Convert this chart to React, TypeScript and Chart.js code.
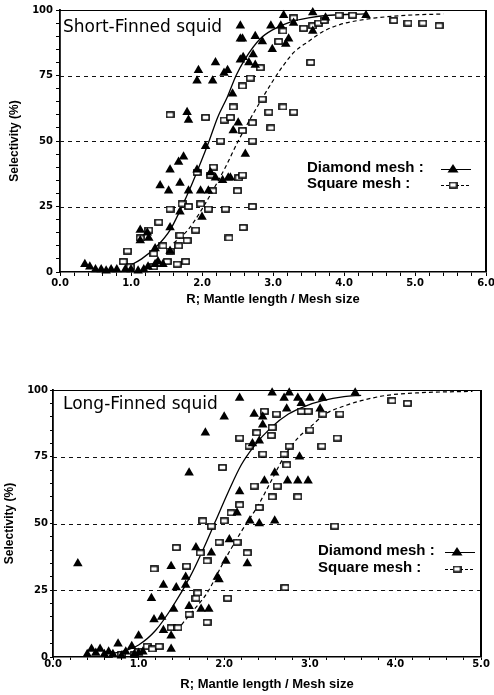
import React, { useEffect, useRef } from 'react';
import { Chart, registerables } from 'chart.js';
Chart.register(...registerables);

// ---------------- data ----------------
const yTickLabels = ['0', '25', '50', '75', '100'];
const xTickLabelsTop = ['0.0', '1.0', '2.0', '3.0', '4.0', '5.0', '6.0'];
const xTickLabelsBottom = ['0.0', '1.0', '2.0', '3.0', '4.0', '5.0'];
const yGridValues = [25, 50, 75];
const legendLabels = ['Diamond mesh :', 'Square mesh :'];
const titleTop = 'Short-Finned squid';
const titleBottom = 'Long-Finned squid';
const axisTitleX = 'R; Mantle length / Mesh size';
const axisTitleY = 'Selectivity (%)';

// Short-finned squid: diamond mesh (filled triangles)
const shortDiamond = [
  [0.35, 3], [0.42, 2], [0.5, 1], [0.58, 1], [0.65, 0.5], [0.72, 1], [0.8, 1], [0.92, 1], [1.0, 1], [1.1, 0.5], [1.18, 1],
  [1.24, 2], [1.34, 3], [1.38, 4], [1.45, 3],
  [1.13, 16], [1.23, 15], [1.13, 12], [1.25, 13], [1.34, 9], [1.55, 8],
  [1.41, 33], [1.53, 31], [1.55, 39], [1.67, 42], [1.74, 44], [1.69, 34], [1.55, 17], [1.69, 23], [1.81, 31],
  [1.79, 61], [1.81, 58], [1.95, 77], [1.93, 73], [2.19, 80], [2.15, 73], [2.36, 77], [2.31, 76],
  [1.93, 39], [1.98, 31], [2.09, 31], [2.05, 48], [2.12, 38], [2.19, 36], [2.29, 35], [2.4, 36], [2.0, 21], [2.37, 36],
  [2.43, 68], [2.54, 89], [2.54, 81], [2.51, 57], [2.44, 54], [2.61, 45], [2.66, 80], [2.54, 94],
  [3.15, 98], [3.56, 99], [3.74, 97], [4.31, 98], [2.97, 94], [3.11, 94], [3.29, 95], [3.56, 92],
  [2.57, 89], [2.75, 90], [2.85, 88], [2.99, 85], [3.18, 87], [3.22, 89], [2.58, 82], [2.72, 83], [2.75, 79],
];
// Short-finned squid: square mesh (open squares)
const shortSquare = [
  [0.89, 4], [0.99, 2], [0.95, 8], [1.13, 13], [1.25, 16], [1.39, 19], [1.32, 7], [1.32, 2], [1.45, 10], [1.51, 4],
  [1.55, 8], [1.65, 3], [1.67, 10], [1.69, 14], [1.77, 4], [1.79, 12], [1.91, 16],
  [1.55, 24], [1.72, 26], [1.81, 25], [1.98, 26], [2.09, 24], [2.33, 24], [2.71, 25],
  [1.55, 60], [2.05, 59], [2.31, 58], [2.4, 59], [2.44, 63], [2.26, 50], [2.57, 54], [2.71, 50],
  [1.93, 38], [2.16, 40], [2.12, 37], [2.52, 36], [2.15, 31], [2.5, 31], [2.57, 37],
  [2.38, 13], [2.58, 17],
  [2.57, 71], [2.68, 74], [2.82, 78], [2.85, 66], [2.94, 61], [3.14, 63], [3.29, 61], [2.71, 57], [2.97, 55],
  [3.08, 88], [3.14, 92], [3.29, 97], [3.43, 93], [3.53, 80], [3.56, 94], [3.64, 95], [3.72, 96], [3.93, 98],
  [4.12, 98], [4.7, 96], [4.9, 95], [5.11, 95], [5.34, 94],
];
// fitted curves
const shortDiamondCurve = [
  [0.95, 2], [1.15, 5], [1.37, 10], [1.55, 16], [1.7, 24], [1.85, 33], [2.0, 43], [2.1, 50], [2.22, 59],
  [2.36, 67], [2.48, 75], [2.6, 81], [2.82, 89], [3.0, 92.5], [3.25, 95.5], [3.5, 97], [3.8, 98], [4.3, 98.5],
];
const shortSquareCurve = [
  [1.6, 11], [1.8, 16], [2.0, 24], [2.15, 31], [2.33, 40], [2.51, 50], [2.65, 57], [2.82, 65], [3.0, 73],
  [3.15, 79], [3.3, 84], [3.5, 88], [3.72, 92], [3.95, 94.5], [4.2, 96], [4.45, 97], [4.9, 98], [5.4, 98.5],
];

// Long-finned squid: diamond mesh
const longDiamond = [
  [0.29, 35], [0.4, 1], [0.45, 3], [0.5, 1.5], [0.55, 3], [0.6, 1], [0.65, 2], [0.7, 1], [0.76, 5], [0.8, 0.5],
  [0.85, 2], [0.92, 4], [0.95, 1], [1.0, 8], [1.0, 1.5], [1.05, 2],
  [1.15, 22], [1.18, 14], [1.27, 15], [1.29, 27], [1.29, 10], [1.38, 34], [1.38, 8], [1.38, 3], [1.41, 18],
  [1.44, 26], [1.55, 27], [1.55, 30], [1.59, 19], [1.67, 41], [1.73, 18], [1.82, 18],
  [1.59, 69], [1.78, 84], [1.85, 39], [1.92, 30], [1.94, 29], [2.02, 36], [2.06, 44], [2.27, 35],
  [2.3, 51], [2.41, 50], [2.59, 51], [2.15, 54], [2.18, 62],
  [2.0, 90], [2.18, 97], [2.33, 80], [2.41, 81], [2.35, 91], [2.45, 90], [2.45, 87], [2.47, 66], [2.59, 69],
  [2.74, 66], [2.86, 66], [2.98, 66], [2.88, 75],
  [2.56, 99], [2.7, 97], [2.76, 99], [2.73, 93], [2.86, 97], [2.9, 95], [3.0, 97], [3.12, 93], [3.15, 97], [3.53, 99],
];
// Long-finned squid: square mesh
const longSquare = [
  [0.65, 1], [0.8, 1], [0.95, 1], [1.0, 2], [1.1, 4], [1.16, 3], [1.24, 4], [1.38, 11], [1.46, 11], [1.59, 16],
  [1.67, 22], [1.69, 24], [1.8, 13], [2.04, 22],
  [1.18, 33], [1.44, 41], [1.56, 34], [1.72, 39], [1.8, 36], [1.94, 43], [2.15, 43], [2.27, 39],
  [1.75, 51], [1.85, 49], [2.0, 51], [2.08, 54], [2.18, 57], [2.41, 56], [2.56, 60], [2.86, 60], [2.35, 64], [2.62, 64],
  [1.98, 71], [2.73, 72], [2.45, 76], [2.7, 76], [2.76, 79], [2.29, 79], [2.18, 82], [2.38, 84], [2.55, 83], [2.56, 86],
  [2.47, 92], [2.61, 91], [2.9, 92], [2.98, 92], [3.15, 91], [3.35, 91], [3.0, 85], [3.32, 82], [3.14, 79],
  [3.29, 49], [2.71, 26], [3.96, 96], [4.14, 95],
];
const longDiamondCurve = [
  [0.6, 1], [0.8, 2], [1.0, 4.5], [1.2, 10], [1.4, 19], [1.6, 30], [1.75, 40], [1.9, 51], [2.05, 62],
  [2.2, 72], [2.35, 79], [2.55, 86], [2.75, 91], [2.95, 94], [3.15, 96], [3.4, 97.5], [3.6, 98],
];
const longSquareCurve = [
  [1.45, 10], [1.6, 16], [1.8, 24], [2.0, 36], [2.2, 47], [2.4, 57], [2.55, 66], [2.7, 75], [2.86, 82],
  [3.0, 86], [3.18, 91], [3.4, 94], [3.6, 96], [3.9, 98], [4.3, 99], [4.9, 99.5],
];

// ---------------- helpers ----------------
const toXY = (arr) => arr.map(([x, y]) => ({ x, y }));

function makeSquareMarker() {
  const c = document.createElement('canvas');
  c.width = 9;
  c.height = 7;
  const g = c.getContext('2d');
  g.fillStyle = '#fff';
  g.fillRect(1, 1, 7, 5);
  g.strokeStyle = '#000';
  g.lineWidth = 1.5;
  g.strokeRect(0.9, 0.9, 7.2, 5.2);
  return c;
}

const topPanel = {
  canvasTop: 0, height: 320,
  padTop: 10, padRight: 8, yAxisWidth: 60, xAxisHeight: 48,
  xMax: 6, xLabels: xTickLabelsTop,
  tickLen: 4, xTickPad: 1, yTickPad: 3,
  xTitlePad: 13, yTitlePad: 7,
  title: titleTop, titleX: 63, titleY: 32,
  legendX: 307, legendY: [172, 188], symX: 453, symY: [169, 185], lineX: [441, 471],
  diamond: shortDiamond, square: shortSquare, diamondCurve: shortDiamondCurve, squareCurve: shortSquareCurve,
};

const bottomPanel = {
  canvasTop: 370, height: 325,
  padTop: 20, padRight: 13, yAxisWidth: 53, xAxisHeight: 38,
  xMax: 5, xLabels: xTickLabelsBottom,
  tickLen: 3, xTickPad: -2, yTickPad: 2,
  xTitlePad: 3, yTitlePad: 2,
  title: titleBottom, titleX: 63, titleY: 39,
  legendX: 318, legendY: [185, 202], symX: 457, symY: [182, 199], lineX: [445, 475],
  diamond: longDiamond, square: longSquare, diamondCurve: longDiamondCurve, squareCurve: longSquareCurve,
};

function decorPlugin(p, marker) {
  return {
    id: 'panelDecor',
    beforeDatasetsDraw(chart) {
      const { ctx, chartArea, scales } = chart;
      const ys = scales.y;
      ctx.save();
      ctx.strokeStyle = '#111';
      ctx.lineWidth = 1;
      ctx.setLineDash([4, 4]);
      yGridValues.forEach((v) => {
        const py = Math.round(ys.getPixelForValue(v)) + 0.5;
        ctx.beginPath();
        ctx.moveTo(chartArea.left, py);
        ctx.lineTo(chartArea.right, py);
        ctx.stroke();
      });
      ctx.setLineDash([]);
      ctx.strokeStyle = '#000';
      ctx.lineWidth = 1;
      ctx.beginPath();
      ctx.moveTo(chartArea.left, chartArea.top + 0.5);
      ctx.lineTo(chartArea.right, chartArea.top + 0.5);
      ctx.stroke();
      ctx.lineWidth = 2;
      ctx.beginPath();
      ctx.moveTo(chartArea.right, chartArea.top);
      ctx.lineTo(chartArea.right, chartArea.bottom);
      ctx.stroke();
      ctx.restore();
    },
    afterDraw(chart) {
      const { ctx } = chart;
      ctx.save();
      ctx.fillStyle = '#000';
      ctx.textBaseline = 'alphabetic';
      ctx.textAlign = 'left';
      ctx.font = '17px "DejaVu Sans"';
      ctx.fillText(p.title, p.titleX, p.titleY);
      ctx.font = 'bold 15px "Liberation Sans"';
      legendLabels.forEach((t, i) => ctx.fillText(t, p.legendX, p.legendY[i]));
      // diamond symbol
      const [x1, x2] = p.lineX;
      ctx.strokeStyle = '#000';
      ctx.lineWidth = 1;
      ctx.beginPath();
      ctx.moveTo(x1, p.symY[0] + 0.5);
      ctx.lineTo(x2, p.symY[0] + 0.5);
      ctx.stroke();
      ctx.beginPath();
      ctx.moveTo(p.symX, p.symY[0] - 5);
      ctx.lineTo(p.symX + 5.5, p.symY[0] + 3.5);
      ctx.lineTo(p.symX - 5.5, p.symY[0] + 3.5);
      ctx.closePath();
      ctx.fill();
      // square symbol
      ctx.setLineDash([3, 2]);
      ctx.beginPath();
      ctx.moveTo(x1, p.symY[1] + 0.5);
      ctx.lineTo(x2, p.symY[1] + 0.5);
      ctx.stroke();
      ctx.setLineDash([]);
      ctx.drawImage(marker, p.symX - 4.5, p.symY[1] - 3.5);
      ctx.restore();
    },
  };
}

function buildConfig(p, marker) {
  const tickFont = { family: 'DejaVu Sans', weight: 'bold', size: 10 };
  return {
    type: 'scatter',
    data: {
      datasets: [
        {
          label: 'Diamond fit', data: toXY(p.diamondCurve), showLine: true, borderColor: '#000', borderWidth: 1.3,
          pointRadius: 0, cubicInterpolationMode: 'monotone', fill: false, order: 3,
        },
        {
          label: 'Square fit', data: toXY(p.squareCurve), showLine: true, borderColor: '#000', borderWidth: 1.2,
          borderDash: [4, 3], pointRadius: 0, cubicInterpolationMode: 'monotone', fill: false, order: 2,
        },
        {
          label: 'Square mesh', data: toXY(p.square), pointStyle: marker, pointRadius: 4, order: 1, clip: 8,
        },
        {
          label: 'Diamond mesh', data: toXY(p.diamond), pointStyle: 'triangle', pointRadius: 5.5,
          backgroundColor: '#000', borderColor: '#000', borderWidth: 0, order: 0, clip: 8,
        },
      ],
    },
    options: {
      animation: false,
      responsive: false,
      events: [],
      layout: { padding: { top: p.padTop, right: p.padRight, left: 0, bottom: 0 } },
      plugins: { legend: { display: false }, tooltip: { enabled: false } },
      scales: {
        x: {
          type: 'linear', min: 0, max: p.xMax,
          afterFit: (s) => { s.height = p.xAxisHeight; s.paddingLeft = 0; s.paddingRight = 0; },
          ticks: {
            stepSize: 0.2, autoSkip: false, maxRotation: 0, minRotation: 0, color: '#000', font: tickFont,
            padding: p.xTickPad,
            callback: (v) => { const r = Math.round(v); return Math.abs(v - r) < 1e-6 ? p.xLabels[r] : ''; },
          },
          grid: { drawOnChartArea: false, drawTicks: true, tickLength: p.tickLen, tickColor: '#000', color: '#000', tickWidth: 1 },
          border: { display: true, color: '#000', width: 1.5 },
          title: {
            display: true, text: axisTitleX, color: '#000',
            font: { family: 'Liberation Sans', weight: 'bold', size: 13 },
            padding: { top: 0, bottom: p.xTitlePad },
          },
        },
        y: {
          type: 'linear', min: 0, max: 100,
          afterFit: (s) => { s.width = p.yAxisWidth; s.paddingTop = 0; s.paddingBottom = 0; },
          ticks: {
            stepSize: 5, autoSkip: false, color: '#000', font: tickFont, padding: p.yTickPad,
            callback: (v) => (v % 25 === 0 ? yTickLabels[v / 25] : ''),
          },
          grid: { drawOnChartArea: false, drawTicks: true, tickLength: p.tickLen, tickColor: '#000', color: '#000', tickWidth: 1 },
          border: { display: true, color: '#000', width: 1.8 },
          title: {
            display: true, text: axisTitleY, color: '#000',
            font: { family: 'Liberation Sans', weight: 'bold', size: 12 },
            padding: { top: p.yTitlePad, bottom: 0 },
          },
        },
      },
    },
    plugins: [decorPlugin(p, marker)],
  };
}

function Panel({ spec }) {
  const ref = useRef(null);
  useEffect(() => {
    const marker = makeSquareMarker();
    const chart = new Chart(ref.current, buildConfig(spec, marker));
    return () => chart.destroy();
  }, [spec]);
  return (
    <canvas
      ref={ref}
      width={494}
      height={spec.height}
      style={{ position: 'absolute', left: 0, top: spec.canvasTop, width: 494, height: spec.height }}
    />
  );
}

export default function App() {
  return (
    <div style={{ position: 'absolute', left: 0, top: 0, width: 494, height: 695, background: '#fff' }}>
      <Panel spec={topPanel} />
      <Panel spec={bottomPanel} />
    </div>
  );
}
